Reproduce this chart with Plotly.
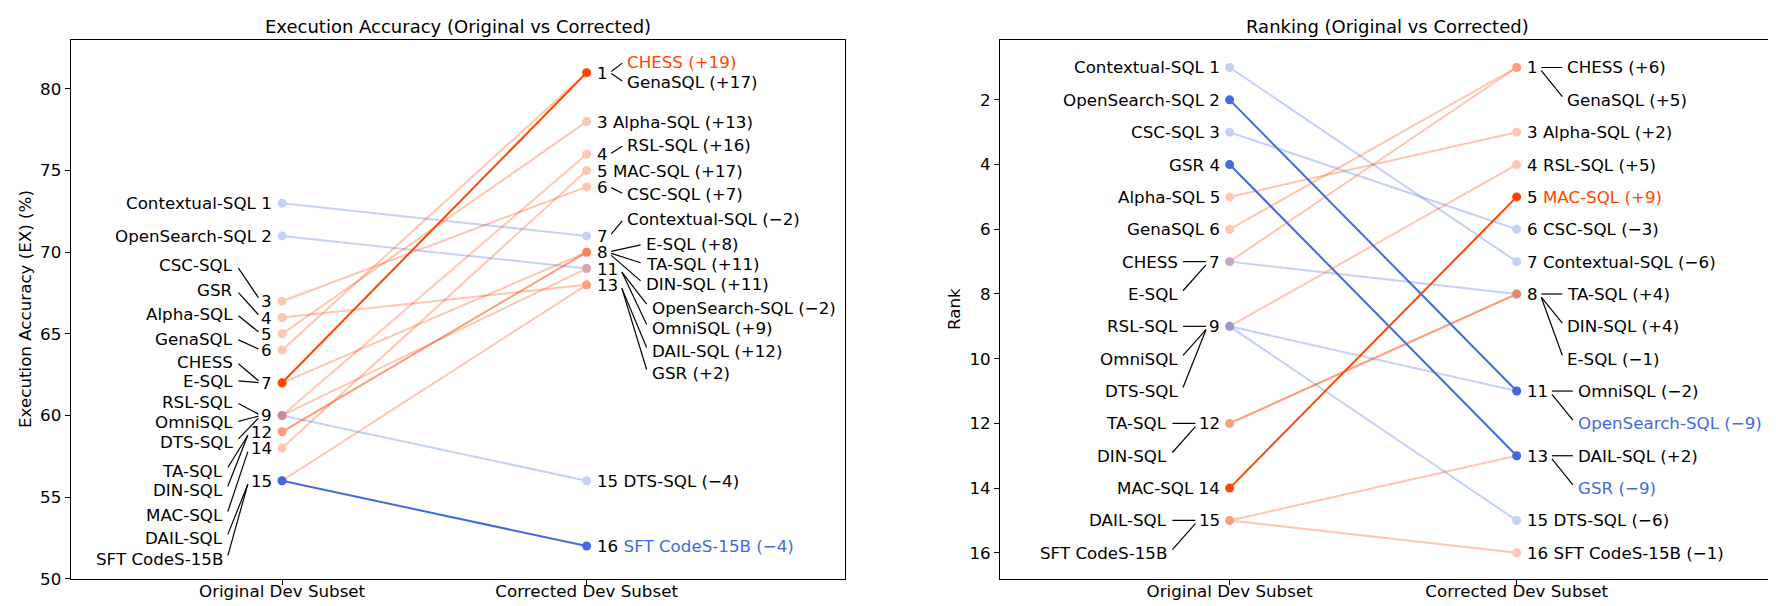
import plotly.graph_objects as go

models = ["Contextual-SQL", "OpenSearch-SQL", "CSC-SQL", "GSR", "Alpha-SQL", "GenaSQL", "CHESS", "E-SQL",
          "RSL-SQL", "OmniSQL", "DTS-SQL", "TA-SQL", "DIN-SQL", "MAC-SQL", "DAIL-SQL", "SFT CodeS-15B"]
ex_original = [73, 71, 67, 66, 65, 64, 62, 62, 60, 60, 60, 59, 59, 58, 56, 56]
ex_corrected = [71, 69, 74, 68, 78, 81, 81, 70, 76, 69, 56, 70, 70, 75, 68, 52]
rank_original = [1, 2, 3, 4, 5, 6, 7, 7, 9, 9, 9, 12, 12, 14, 15, 15]
rank_corrected = [7, 11, 6, 13, 3, 1, 1, 8, 4, 11, 15, 8, 8, 5, 13, 16]
# line colour used in the ranking panel (True = orange)
rank_up = [False, False, False, False, True, True, True, False,
           True, False, False, True, True, True, True, True]
highlight_ex = ["CHESS", "SFT CodeS-15B"]
highlight_rank = ["MAC-SQL", "OpenSearch-SQL", "GSR"]
x_labels = ["Original Dev Subset", "Corrected Dev Subset"]

# names pushed away from their points in the EX panel (label layout only)
ex_left_names = {"CSC-SQL": 69.24, "GSR": 67.7, "Alpha-SQL": 66.23, "GenaSQL": 64.7, "CHESS": 63.3,
                 "E-SQL": 62.13, "RSL-SQL": 60.82, "OmniSQL": 59.6, "DTS-SQL": 58.4, "TA-SQL": 56.6,
                 "DIN-SQL": 55.45, "MAC-SQL": 53.9, "DAIL-SQL": 52.5, "SFT CodeS-15B": 51.2}
ex_right_names = {"CHESS": (81.65, 40.6), "GenaSQL": (80.43, 40.6), "RSL-SQL": (76.55, 40.6),
                  "CSC-SQL": (73.57, 40.6), "Contextual-SQL": (72.03, 40.6), "E-SQL": (70.5, 59),
                  "TA-SQL": (69.28, 59), "DIN-SQL": (68.05, 59), "OpenSearch-SQL": (66.6, 65),
                  "OmniSQL": (65.36, 65), "DAIL-SQL": (63.95, 65), "GSR": (62.6, 65)}

UP, DOWN = "#FF4500", "#4169E1"
FONT = "DejaVu Sans"
FS = 16.7
DIGIT = 0.636 * FS
W, H = 1776, 606
TOP, BOTTOM = 32.0, 570.7

panels = [
    dict(xa="x", ya="y", px=(62.7, 836.6), xr=(-0.694, 1.847), yr=(50, 83)),
    dict(xa="x2", ya="y2", px=(992.0, 1767.0), xr=(-0.8, 1.9), yr=(16.8, 0.15)),
]


def to_px_x(p, v):
    return p["px"][0] + (v - p["xr"][0]) / (p["xr"][1] - p["xr"][0]) * (p["px"][1] - p["px"][0])


def from_px_x(p, px):
    return p["xr"][0] + (px - p["px"][0]) / (p["px"][1] - p["px"][0]) * (p["xr"][1] - p["xr"][0])


def to_px_y(p, v):
    lo, hi = p["yr"]
    return TOP + (hi - v) / (hi - lo) * (BOTTOM - TOP)


def from_px_y(p, py):
    lo, hi = p["yr"]
    return hi - (py - TOP) / (BOTTOM - TOP) * (hi - lo)


def fmt_delta(d):
    return f"({'+' if d > 0 else '−'}{abs(d)})"


annotations, shapes = [], []


def add_text(p, px, py, text, anchor, colour="black"):
    annotations.append(dict(xref=p["xa"], yref=p["ya"], x=from_px_x(p, px), y=from_px_y(p, py),
                            text=text, xanchor=anchor, yanchor="middle", showarrow=False,
                            borderpad=0, borderwidth=0,
                            font=dict(family=FONT, size=FS, color=colour)))


def add_leader(p, x0, y0, x1, y1):
    shapes.append(dict(type="line", xref=p["xa"], yref=p["ya"], layer="above",
                       x0=from_px_x(p, x0), y0=from_px_y(p, y0),
                       x1=from_px_x(p, x1), y1=from_px_y(p, y1),
                       line=dict(color="black", width=1.2)))


def label_side(p, side, values, numbers, texts, colours, placed):
    # placed: {model index: (name edge px, name centre px y)}
    mx = to_px_x(p, side)
    groups = {}
    for i, v in enumerate(values):
        groups.setdefault(v, []).append(i)
    anchor = "right" if side == 0 else "left"
    for v, idx in groups.items():
        my = to_px_y(p, v)
        num = str(numbers[idx[0]])
        num_edge = mx - 10 if side == 0 else mx + 10
        num_far = num_edge - len(num) * DIGIT if side == 0 else num_edge + len(num) * DIGIT
        if len(idx) == 1 and idx[0] not in placed:
            i = idx[0]
            if side == 0:
                txt = f"{texts[i]} {num}"
            else:
                name = texts[i] if colours[i] == "black" else f"<span style='color:{colours[i]}'>{texts[i]}</span>"
                txt = f"{num} {name}"
            add_text(p, num_edge, my, txt, anchor)
            continue
        add_text(p, num_edge, my, num, anchor)
        for i in idx:
            edge, ny = placed[i]
            add_text(p, edge, ny, texts[i], anchor, colours[i])
            sh = max(-3.5, min(3.5, (ny - my) * 0.1))
            if side == 0:
                add_leader(p, edge + 5, ny - sh, num_far - 3, my + sh)
            else:
                add_leader(p, num_far + 4, my + sh, edge - 5, ny - sh)


fig = go.Figure()

# ---- panel data
ex_delta = [c - o for o, c in zip(ex_original, ex_corrected)]
rank_delta = [o - c for o, c in zip(rank_original, rank_corrected)]
ex_col = [UP if d > 0 else DOWN for d in ex_delta]
rank_col = [UP if u else DOWN for u in rank_up]

for pi, (p, y0s, y1s, cols, hl) in enumerate([
        (panels[0], ex_original, ex_corrected, ex_col, highlight_ex),
        (panels[1], rank_original, rank_corrected, rank_col, highlight_rank)]):
    order = [i for i in range(len(models)) if models[i] not in hl] + \
            [i for i in range(len(models)) if models[i] in hl]
    for i in order:
        strong = models[i] in hl
        fig.add_trace(go.Scatter(
            x=[0, 1], y=[y0s[i], y1s[i]], mode="lines+markers", name=models[i],
            xaxis=p["xa"], yaxis=p["ya"], opacity=1.0 if strong else 0.3,
            line=dict(color=cols[i], width=2), marker=dict(color=cols[i], size=9),
            hoverinfo="skip", showlegend=False))

# ---- EX panel labels
p = panels[0]
mx0, mx1 = to_px_x(p, 0), to_px_x(p, 1)
placed = {}
for name, yv in ex_left_names.items():
    i = models.index(name)
    nd = len(str(rank_original[i]))
    placed[i] = (mx0 - 10 - nd * DIGIT - 28, to_px_y(p, yv))
label_side(p, 0, ex_original, rank_original, models, ["black"] * len(models), placed)

placed = {}
for name, (yv, dx) in ex_right_names.items():
    i = models.index(name)
    placed[i] = (mx1 + dx, to_px_y(p, yv))
ex_texts = [f"{m} {fmt_delta(d)}" for m, d in zip(models, ex_delta)]
ex_text_col = [ex_col[i] if models[i] in highlight_ex else "black" for i in range(len(models))]
label_side(p, 1, ex_corrected, rank_corrected, ex_texts, ex_text_col, placed)

# ---- ranking panel labels (stacked one rank apart, largest gain first)
p = panels[1]
for side, vals, gap in [(0, rank_original, 31), (1, rank_corrected, 30)]:
    mx = to_px_x(p, side)
    placed = {}
    groups = {}
    for i, v in enumerate(vals):
        groups.setdefault(v, []).append(i)
    for v, idx in groups.items():
        if len(idx) < 2:
            continue
        nd = len(str(v))
        for k, i in enumerate(sorted(idx, key=lambda j: -rank_delta[j])):
            edge = mx - 10 - nd * DIGIT - gap if side == 0 else mx + 10 + nd * DIGIT + gap
            placed[i] = (edge, to_px_y(p, v + k))
    if side == 0:
        label_side(p, 0, vals, vals, models, ["black"] * len(models), placed)
    else:
        rk_texts = [f"{m} {fmt_delta(d)}" for m, d in zip(models, rank_delta)]
        rk_col = [rank_col[i] if models[i] in highlight_rank else "black" for i in range(len(models))]
        label_side(p, 1, vals, vals, rk_texts, rk_col, placed)

# ---- titles and axis titles
mid_y = 1 - (TOP + BOTTOM) / 2 / H
for p, title, ylab, ylab_x in [(panels[0], "Execution Accuracy (Original vs Corrected)", "Execution Accuracy (EX) (%)", 17.6),
                               (panels[1], "Ranking (Original vs Corrected)", "Rank", 946.7)]:
    annotations.append(dict(xref="paper", yref="paper", x=(p["px"][0] + p["px"][1]) / 2 / W, y=1 - 18 / H,
                            text=title, showarrow=False, xanchor="center", yanchor="middle",
                            font=dict(family=FONT, size=18, color="black")))
    annotations.append(dict(xref="paper", yref="paper", x=ylab_x / W, y=mid_y, text=ylab, textangle=-90,
                            showarrow=False, xanchor="center", yanchor="middle",
                            font=dict(family=FONT, size=FS, color="black")))

axis_common = dict(showline=True, mirror=True, linecolor="black", linewidth=1.1, ticks="outside",
                   ticklen=5, tickwidth=1.1, tickcolor="black", showgrid=False, zeroline=False,
                   automargin=False, tickfont=dict(family=FONT, size=FS, color="black"))
ydom = [1 - BOTTOM / H, 1 - TOP / H]

fig.update_layout(
    width=W, height=H, margin=dict(l=0, r=0, t=0, b=0),
    paper_bgcolor="white", plot_bgcolor="white", showlegend=False,
    font=dict(family=FONT, size=FS, color="black"),
    xaxis=dict(domain=[panels[0]["px"][0] / W, panels[0]["px"][1] / W], range=list(panels[0]["xr"]),
               tickvals=[0, 1], ticktext=x_labels, anchor="y", ticklabelstandoff=-8, **axis_common),
    yaxis=dict(domain=ydom, range=list(panels[0]["yr"]), tickvals=list(range(50, 81, 5)), anchor="x", **axis_common),
    xaxis2=dict(domain=[panels[1]["px"][0] / W, panels[1]["px"][1] / W], range=list(panels[1]["xr"]),
                tickvals=[0, 1], ticktext=x_labels, anchor="y2", ticklabelstandoff=-8, **axis_common),
    yaxis2=dict(domain=ydom, range=list(panels[1]["yr"]), tickvals=list(range(2, 17, 2)), anchor="x2", **axis_common),
    annotations=annotations, shapes=shapes,
)

fig.write_html("out.html")
